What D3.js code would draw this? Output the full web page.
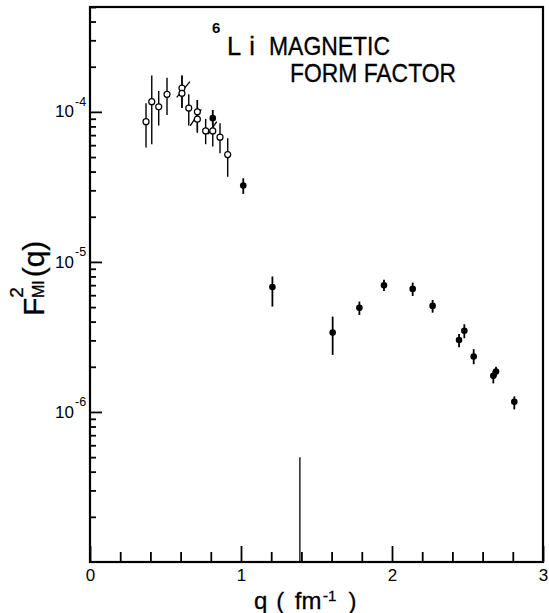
<!DOCTYPE html>
<meta charset="utf-8">
<style>
body {
  margin: 0;
  background-color: #fff;
}
svg {
  display: block;
  font-family: "Liberation Sans", Arial, sans-serif;
}
svg text {
  fill: #000;
}
.axis path {
  display: none;
}
.axis line {
  stroke: #000;
  stroke-width: 1.8px;
}
.axis text {
  font-size: 17px;
  fill: #000;
}
.frame {
  fill: none;
  stroke: #000;
  stroke-width: 2.2px;
}
.err-open {
  stroke: #000;
  stroke-width: 1.4px;
}
.err-full {
  stroke: #000;
  stroke-width: 1.8px;
}
.dot-open {
  fill: #fff;
  stroke: #000;
  stroke-width: 1.2px;
}
.dot-full {
  fill: #000;
}
.slash, .marker {
  stroke: #000;
  stroke-width: 1.3px;
}
.title {
  stroke: #000;
  stroke-width: 0.3px;
}
</style>
<body>
<svg width="549" height="613"></svg>

<script src="https://d3js.org/d3.v7.min.js"></script>
<script>

// open circles (low q data)
var openQ  = [0.371, 0.409, 0.455, 0.510, 0.609, 0.609, 0.654, 0.711, 0.711, 0.766, 0.813, 0.861, 0.912];
var openF  = [8.6e-5, 1.17e-4, 1.08e-4, 1.31e-4, 1.44e-4, 1.33e-4, 1.06e-4, 1.0e-4, 8.94e-5, 7.47e-5, 7.47e-5, 6.78e-5, 5.19e-5];
var openLo = [5.78e-5, 6.09e-5, 8.1e-5, 9.55e-5, 1.06e-4, 1.06e-4, 8.1e-5, 7.28e-5, 7.28e-5, 6.09e-5, 5.87e-5, 5.3e-5, 3.7e-5];
var openHi = [1.14e-4, 1.75e-4, 1.38e-4, 1.69e-4, 1.75e-4, 1.75e-4, 1.31e-4, 1.2e-4, 1.2e-4, 8.98e-5, 8.45e-5, 8.4e-5, 6.68e-5];

// filled circles
var fullQ  = [0.813, 1.015, 1.208, 1.607, 1.784, 1.947, 2.137, 2.269, 2.444, 2.479, 2.541, 2.671, 2.689, 2.810];
var fullF  = [9.08e-5, 3.23e-5, 6.81e-6, 3.38e-6, 4.94e-6, 6.99e-6, 6.61e-6, 5.09e-6, 3.02e-6, 3.48e-6, 2.34e-6, 1.74e-6, 1.86e-6, 1.17e-6];
var fullLo = [8.2e-5, 2.84e-5, 5.04e-6, 2.4e-6, 4.43e-6, 6.4e-6, 5.93e-6, 4.59e-6, 2.7e-6, 3.1e-6, 2.08e-6, 1.55e-6, 1.72e-6, 1.04e-6];
var fullHi = [1.03e-4, 3.61e-5, 8.0e-6, 4.32e-6, 5.44e-6, 7.6e-6, 7.28e-6, 5.58e-6, 3.31e-6, 3.84e-6, 2.62e-6, 1.88e-6, 2.0e-6, 1.27e-6];

// little slashes through the paired points
var slashQ1 = [0.574, 0.663, 0.783];
var slashF1 = [1.25e-4, 8.07e-5, 7.1e-5];
var slashQ2 = [0.662, 0.737, 0.839];
var slashF2 = [1.59e-4, 1.04e-4, 8.62e-5];

// vertical marker near q = 1.4
var markerQ = 1.39;
var markerF = [1e-7, 5e-7];

// ticks
var xMajor = [0, 1, 2, 3];
var yMajor = [1e-6, 1e-5, 1e-4];
var yMajorExp = ["-6", "-5", "-4"];

var x = d3.scaleLinear().domain([0, 3]).range([90, 543]);
var y = d3.scaleLog().domain([1e-7, 5e-4]).range([562, 7]);

var svg = d3.select("svg");

svg.append("rect")
  .attr("width", 549)
  .attr("height", 613)
  .attr("fill", "#fff");

// minor ticks
var xMinor = d3.range(1, 15).map(function(i) { return i / 5; })
  .filter(function(d) { return Math.abs(d - 1) > 1e-6 && Math.abs(d - 2) > 1e-6; });

svg.append("g")
  .attr("class", "axis")
  .attr("transform", "translate(0," + y(1e-7) + ")")
  .call(d3.axisBottom(x).tickValues(xMinor).tickSize(-10).tickFormat(""));

svg.append("g")
  .attr("class", "axis")
  .attr("transform", "translate(0," + y(1e-7) + ")")
  .call(d3.axisBottom(x).tickValues(xMajor).tickSize(-16).tickPadding(7).tickFormat(d3.format("d")));

var yMinor = y.ticks().filter(function(d) {
  var l = Math.log10(d);
  return Math.abs(l - Math.round(l)) > 1e-6;
});

svg.append("g")
  .attr("class", "axis")
  .attr("transform", "translate(" + x(0) + ",0)")
  .call(d3.axisLeft(y).tickValues(yMinor).tickSize(-6).tickFormat(""));

svg.append("g")
  .attr("class", "axis")
  .attr("transform", "translate(" + x(0) + ",0)")
  .call(d3.axisLeft(y).tickValues(yMajor).tickSize(-12).tickFormat(""));

// y tick labels 10^n
svg.selectAll(".ylab").data(yMajor)
  .enter().append("text")
  .attr("class", "ylab")
  .attr("x", 74)
  .attr("y", function(d) { return y(d) + 5.6; })
  .attr("text-anchor", "end")
  .style("font-size", "17px")
  .text("10");

svg.selectAll(".yexp").data(yMajor)
  .enter().append("text")
  .attr("class", "yexp")
  .attr("x", 75)
  .attr("y", function(d) { return y(d) - 5.5; })
  .style("font-size", "12.5px")
  .text(function(d, i) { return yMajorExp[i]; });

// frame
svg.append("rect")
  .attr("class", "frame")
  .attr("x", x(0))
  .attr("y", y(5e-4))
  .attr("width", x(3) - x(0))
  .attr("height", y(1e-7) - y(5e-4));

// marker line
svg.append("line")
  .attr("class", "marker")
  .attr("x1", x(markerQ)).attr("x2", x(markerQ))
  .attr("y1", y(markerF[0])).attr("y2", y(markerF[1]));

// error bars
svg.selectAll(".err-open").data(openQ)
  .enter().append("line")
  .attr("class", "err-open")
  .attr("x1", function(d) { return x(d); })
  .attr("x2", function(d) { return x(d); })
  .attr("y1", function(d, i) { return y(openLo[i]); })
  .attr("y2", function(d, i) { return y(openHi[i]); });

svg.selectAll(".err-full").data(fullQ)
  .enter().append("line")
  .attr("class", "err-full")
  .attr("x1", function(d) { return x(d); })
  .attr("x2", function(d) { return x(d); })
  .attr("y1", function(d, i) { return y(fullLo[i]); })
  .attr("y2", function(d, i) { return y(fullHi[i]); });

svg.selectAll(".slash").data(slashQ1)
  .enter().append("line")
  .attr("class", "slash")
  .attr("x1", function(d) { return x(d); })
  .attr("y1", function(d, i) { return y(slashF1[i]); })
  .attr("x2", function(d, i) { return x(slashQ2[i]); })
  .attr("y2", function(d, i) { return y(slashF2[i]); });

svg.selectAll(".dot-open").data(openQ)
  .enter().append("circle")
  .attr("class", "dot-open")
  .attr("cx", function(d) { return x(d); })
  .attr("cy", function(d, i) { return y(openF[i]); })
  .attr("r", 3);

svg.selectAll(".dot-full").data(fullQ)
  .enter().append("circle")
  .attr("class", "dot-full")
  .attr("cx", function(d) { return x(d); })
  .attr("cy", function(d, i) { return y(fullF[i]); })
  .attr("r", 3.3);

// title
svg.append("text")
  .attr("x", 212)
  .attr("y", 33)
  .style("font-size", "15px")
  .style("font-weight", "bold")
  .text("6");

var t1 = svg.append("text")
  .attr("class", "title")
  .attr("x", 227)
  .attr("y", 55)
  .style("font-size", "25.5px");
t1.append("tspan").text("L");
t1.append("tspan").attr("dx", 8).text("i");
t1.append("tspan")
  .attr("x", 269)
  .attr("textLength", 121)
  .attr("lengthAdjust", "spacingAndGlyphs")
  .text("MAGNETIC");

svg.append("text")
  .attr("class", "title")
  .attr("x", 290)
  .attr("y", 81.5)
  .attr("textLength", 166)
  .attr("lengthAdjust", "spacingAndGlyphs")
  .style("font-size", "25.5px")
  .text("FORM FACTOR");

// y axis title
var yt = svg.append("text")
  .attr("class", "title")
  .attr("transform", "translate(44,316) rotate(-90)")
  .style("font-size", "30px");
yt.append("tspan").text("F");
yt.append("tspan").attr("dy", -21).style("font-size", "19px").text("2");
yt.append("tspan").attr("dx", -11).attr("dy", 21).style("font-size", "16px").text("MI");
yt.append("tspan").attr("dx", 3).text("(q)");

// x axis title
var xt = svg.append("text")
  .attr("class", "title")
  .attr("x", 254)
  .attr("y", 609)
  .style("font-size", "24px");
xt.append("tspan").text("q");
xt.append("tspan").attr("dx", 9).text("(");
xt.append("tspan").attr("dx", 10.5).text("fm");
xt.append("tspan").attr("dx", 1.5).attr("dy", -8).style("font-size", "15px").text("-1");
xt.append("tspan").attr("dx", 12).attr("dy", 8).text(")");

</script>
</body>
